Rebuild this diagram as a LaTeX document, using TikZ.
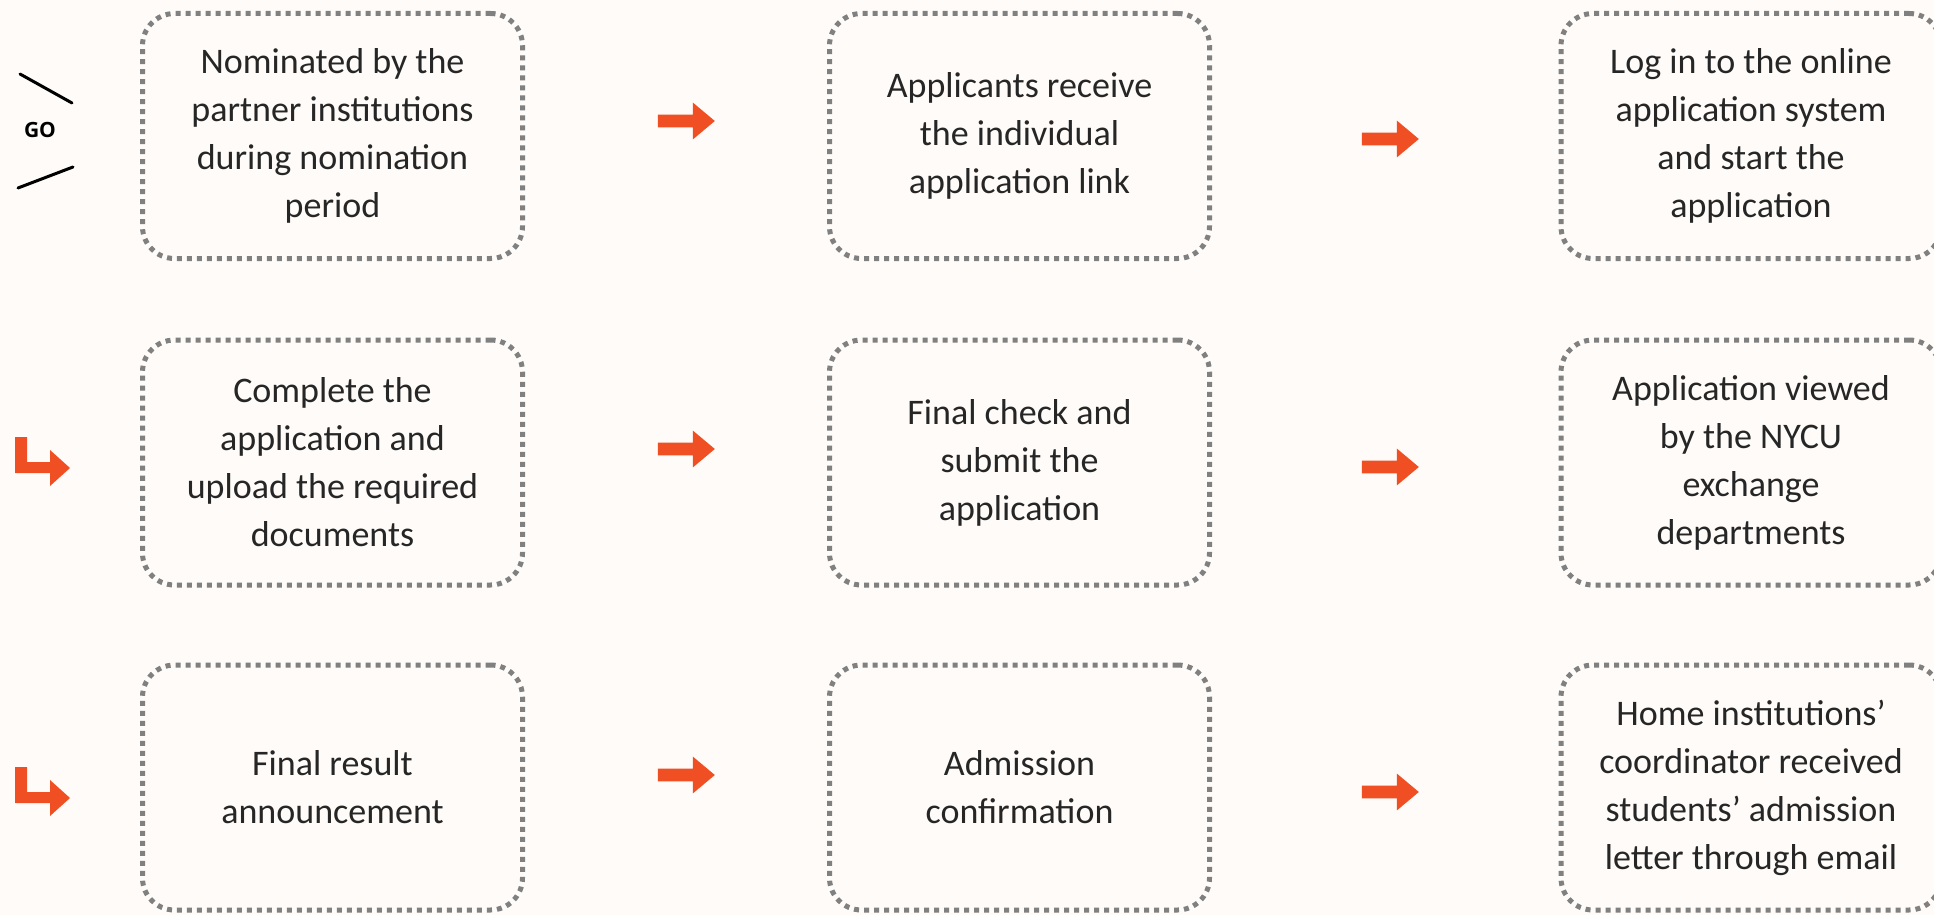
\documentclass[tikz,border=0pt]{standalone}
\usepackage{fontspec}
\setmainfont{Carlito}
\newfontfamily\gofont{Open Sans}
\usetikzlibrary{shapes.arrows, positioning}
\definecolor{paper}{RGB}{254,251,248}
\definecolor{dotgray}{RGB}{128,128,128}
\definecolor{nycuorange}{RGB}{240,78,35}

\begin{document}
\begin{tikzpicture}[
    x=0.5pt, y=-0.5pt,
    stepbox/.style={rectangle, rounded corners=16pt, draw=dotgray, line width=2.5pt, dash pattern=on 2.5pt off 2.5pt, minimum width=190pt, minimum height=122.5pt, inner sep=0pt, align=center, text=black!85, font=\fontsize{18}{24}\selectfont},
    blockarrow/.style={single arrow, fill=nycuorange, draw=none, inner xsep=0pt, inner ysep=3pt, minimum height=28.5pt, single arrow head extend=6pt, single arrow tip angle=80},
    turn/.style={fill=nycuorange},
    golabel/.style={font=\gofont\bfseries\fontsize{10.5}{12}\selectfont, inner sep=0pt},
    goline/.style={line width=1.5pt, line cap=round}
]
    \fill[paper] (0,0) rectangle (1934,915);
    \useasboundingbox (0,0) rectangle (1934,915);

    % Start marker
    \node[golabel] (go) at (40,130) {GO};
    \draw[goline] (20,74) -- (72,103);
    \draw[goline] (18,188) -- (73,167);

    % Row 1
    \node[stepbox] (nominate) at (332.5,136) {Nominated by the\\partner institutions\\during nomination\\period};
    \node[stepbox] (receive) at (1019.5,136) {Applicants receive\\the individual\\application link};
    \node[stepbox] (login) at (1751,136) {Log in to the online\\application system\\and start the\\application};

    % Row 2
    \node[stepbox] (complete) at (332.5,462.5) {Complete the\\application and\\upload the required\\documents};
    \node[stepbox] (submit) at (1019.5,462.5) {Final check and\\submit the\\application};
    \node[stepbox] (viewed) at (1751,462.5) {Application viewed\\by the NYCU\\exchange\\departments};

    % Row 3
    \node[stepbox] (result) at (332.5,787.5) {Final result\\announcement};
    \node[stepbox] (confirm) at (1019.5,787.5) {Admission\\confirmation};
    \node[stepbox] (notify) at (1751,787.5) {Home institutions’\\coordinator received\\students’ admission\\letter through email};

    % Arrows
    \node[blockarrow] (a1) at (682.5,121) {};
    \node[blockarrow] (a2) at (1386.5,139) {};
    \node[blockarrow] (a3) at (682.5,449) {};
    \node[blockarrow] (a4) at (1386.5,467) {};
    \node[blockarrow] (a5) at (682.5,775) {};
    \node[blockarrow] (a6) at (1386.5,792) {};

    % Turn arrows at the start of rows 2 and 3
    \foreach \dy in {0,330} {
        \fill[turn, shift={(0,\dy)}] (15,437) -- (27,437) -- (27,462) -- (50,462) -- (50,450) -- (70,468) -- (50,486) -- (50,473) -- (15,473) -- cycle;
    }
\end{tikzpicture}
\end{document}
